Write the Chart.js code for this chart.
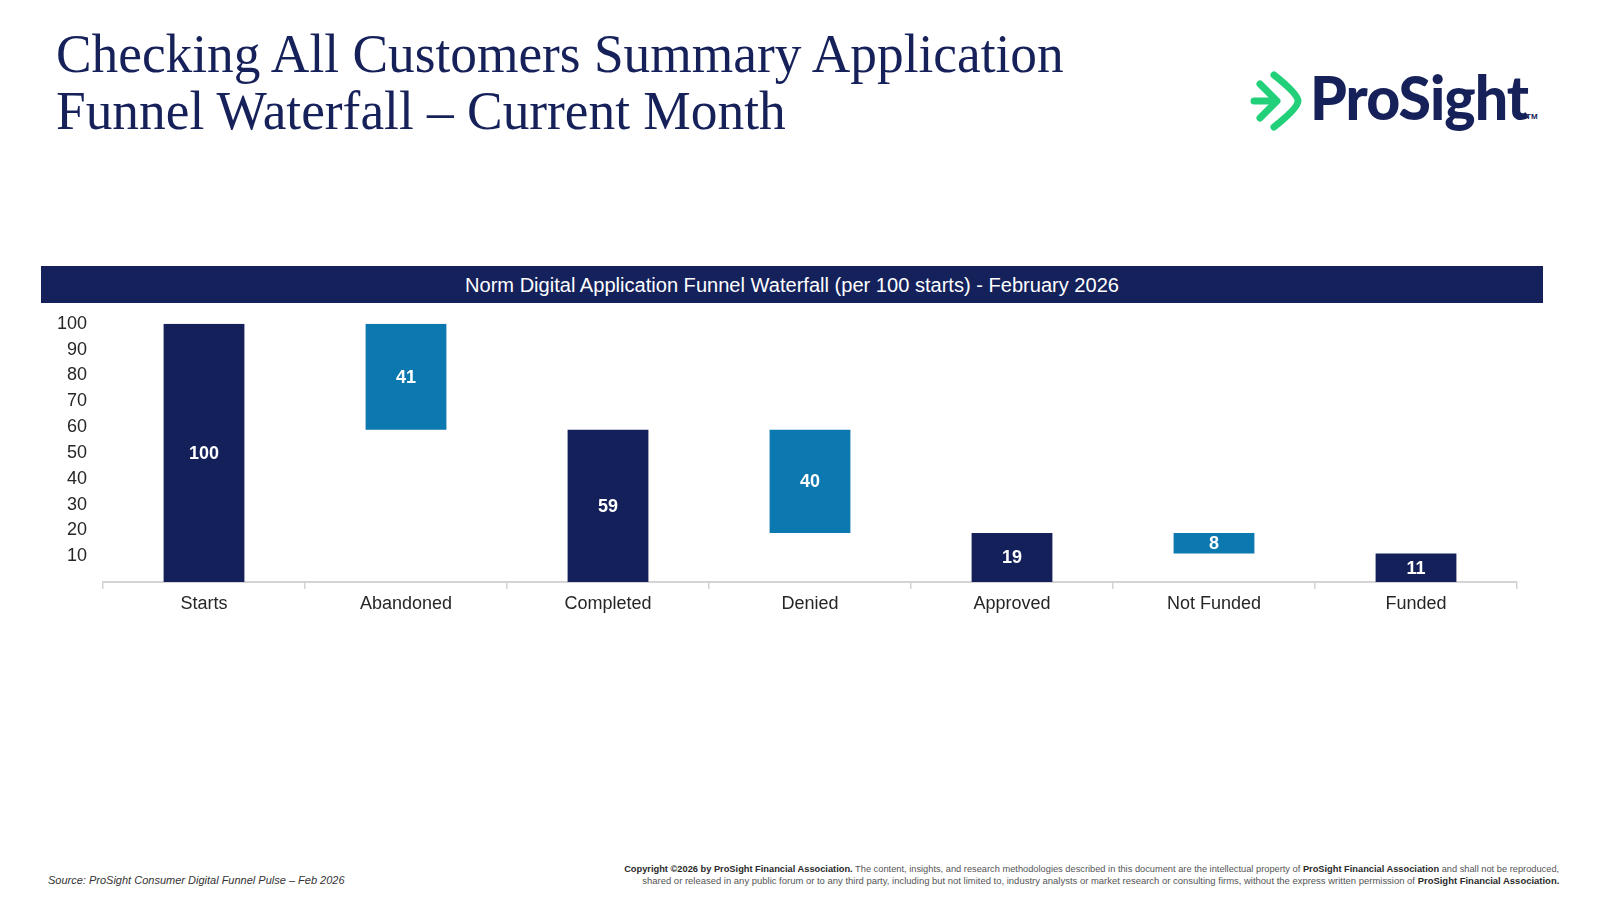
<!DOCTYPE html>
<html>
<head>
<meta charset="utf-8">
<script src="https://cdn.jsdelivr.net/npm/chart.js@4.4.1/dist/chart.umd.min.js"></script>
<style>
  html, body { margin:0; padding:0; background:#ffffff; }
  body { width:1600px; height:900px; position:relative; overflow:hidden; }
  .title { position:absolute; left:56px; top:26px; font-family:"Liberation Serif","Times New Roman",serif; font-size:54px; line-height:57px; color:#16215a; white-space:nowrap; transform-origin:0 0; transform:scaleX(0.988); }
  .logo { position:absolute; left:1250px; top:66px; height:70px; width:300px; }
  .logo svg { position:absolute; left:0; top:4px; }
  .logo .word { position:absolute; left:60px; top:-5px; font-family:"Lato","Inter","Noto Sans",sans-serif; font-weight:900; font-size:60px; color:#16215a; letter-spacing:-1px; white-space:nowrap; transform-origin:0 0; }
  .logo .tm { position:absolute; left:276px; top:46px; font-family:"Liberation Sans",Arial,sans-serif; font-size:8px; color:#16215a; font-weight:bold; }
  .banner { position:absolute; left:41px; top:266px; width:1502px; height:37px; background:#14215b; }
  .banner span { position:absolute; left:50%; top:50%; white-space:nowrap; color:#ffffff; font-family:"Liberation Sans",Arial,sans-serif; font-size:20px; transform-origin:center center; }
  .chartbox { position:absolute; left:0; top:305px; width:1600px; height:325px; }
  .source { position:absolute; left:48px; top:874px; font-family:"Liberation Sans",Arial,sans-serif; font-style:italic; font-size:11px; color:#333; white-space:nowrap; }
  .copy { position:absolute; right:41px; font-family:"Liberation Sans",Arial,sans-serif; font-size:9.5px; color:#555; white-space:nowrap; transform-origin:right center; }
  .copy b { color:#2a2a2a; font-weight:bold; }
</style>
</head>
<body>
<div class="title">Checking All Customers Summary Application<br>Funnel Waterfall – Current Month</div>

<div class="logo">
  <svg width="56" height="62" viewBox="0 0 56 62">
    <g fill="none" stroke="#22d07a" stroke-width="7" stroke-linecap="round" stroke-linejoin="round">
      <path d="M4 31 H24"/>
      <path d="M10 14 L27 31 L10 48"/>
      <path d="M24 5 Q48 24 48 31 Q48 38 24 57"/>
    </g>
  </svg>
  <div class="word" id="logoWord">ProSight</div>
  <div class="tm">TM</div>
</div>

<div class="banner"><span id="bannerText">Norm Digital Application Funnel Waterfall (per 100 starts) - February 2026</span></div>

<div class="chartbox"><canvas id="c"></canvas></div>

<div class="source">Source: ProSight Consumer Digital Funnel Pulse – Feb 2026</div>
<div class="copy" id="copy1" style="top:863px;"><b>Copyright ©2026 by ProSight Financial Association.</b> The content, insights, and research methodologies described in this document are the intellectual property of <b>ProSight Financial Association</b> and shall not be reproduced,</div>
<div class="copy" id="copy2" style="top:875px;">shared or released in any public forum or to any third party, including but not limited to, industry analysts or market research or consulting firms, without the express written permission of <b>ProSight Financial Association.</b></div>

<script>
// ---- data ----
const categories = ["Starts", "Abandoned", "Completed", "Denied", "Approved", "Not Funded", "Funded"];
const barValues  = [100, 41, 59, 40, 19, 8, 11];
const barBases   = [0, 59, 0, 19, 0, 11, 0];
const barKinds   = ["total", "drop", "total", "drop", "total", "drop", "total"];
const yTicks     = [10, 20, 30, 40, 50, 60, 70, 80, 90, 100];

// ---- fit helpers for text widths ----
function fitX(el, target, origin) {
  const w = el.getBoundingClientRect().width;
  el.style.transformOrigin = origin;
  return target / w;
}
(function () {
  const b = document.getElementById('bannerText');
  const s = fitX(b, 654, 'center center');
  b.style.transform = 'translate(-50%,-50%) scaleX(' + s + ')';
  const lw = document.getElementById('logoWord');
  lw.style.transform = 'scaleX(' + fitX(lw, 218, '0 0') + ')';
  const c1 = document.getElementById('copy1');
  c1.style.transform = 'scaleX(' + fitX(c1, 935, 'right center') + ')';
  const c2 = document.getElementById('copy2');
  c2.style.transform = 'scaleX(' + fitX(c2, 917, 'right center') + ')';
})();

const NAVY = '#13205a';
const TEAL = '#0b78b0';

const barLabelPlugin = {
  id: 'barLabels',
  afterDatasetsDraw(chart) {
    const ctx = chart.ctx;
    const meta = chart.getDatasetMeta(0);
    ctx.save();
    ctx.fillStyle = '#ffffff';
    ctx.font = 'bold 18px "Liberation Sans", Arial, sans-serif';
    ctx.textAlign = 'center';
    ctx.textBaseline = 'middle';
    meta.data.forEach((el, i) => {
      const p = el.getProps(['x', 'y', 'base'], true);
      ctx.fillText(String(barValues[i]), p.x, (p.y + p.base) / 2 + 1);
    });
    ctx.restore();
  }
};

new Chart(document.getElementById('c'), {
  type: 'bar',
  data: {
    labels: categories,
    datasets: [{
      data: barValues.map((v, i) => [barBases[i], barBases[i] + v]),
      backgroundColor: barKinds.map(k => k === 'total' ? NAVY : TEAL),
      borderWidth: 0,
      categoryPercentage: 1,
      barPercentage: 0.4
    }]
  },
  options: {
    responsive: true,
    maintainAspectRatio: false,
    animation: false,
    layout: { padding: { top: 12, right: 83, left: 0, bottom: 0 } },
    plugins: { legend: { display: false }, tooltip: { enabled: false } },
    scales: {
      x: {
        afterFit(scale) { scale.height = 48; },
        grid: { display: true, drawOnChartArea: false, drawTicks: true, tickLength: 7, color: '#d4d4d4', lineWidth: 1.5, offset: true },
        border: { display: true, color: '#d4d4d4', width: 2 },
        ticks: { color: '#262626', padding: 4, font: { family: '"Liberation Sans", Arial, sans-serif', size: 18 } }
      },
      y: {
        min: 0, max: 100,
        afterFit(scale) { scale.width = 103; },
        afterBuildTicks(scale) { scale.ticks = [0].concat(yTicks).map(v => ({ value: v })); },
        grid: { display: false },
        border: { display: false },
        ticks: {
          color: '#262626', padding: 8,
          font: { family: '"Liberation Sans", Arial, sans-serif', size: 18 },
          callback: v => (v === 0 ? '' : v)
        }
      }
    }
  },
  plugins: [barLabelPlugin]
});
</script>
</body>
</html>
